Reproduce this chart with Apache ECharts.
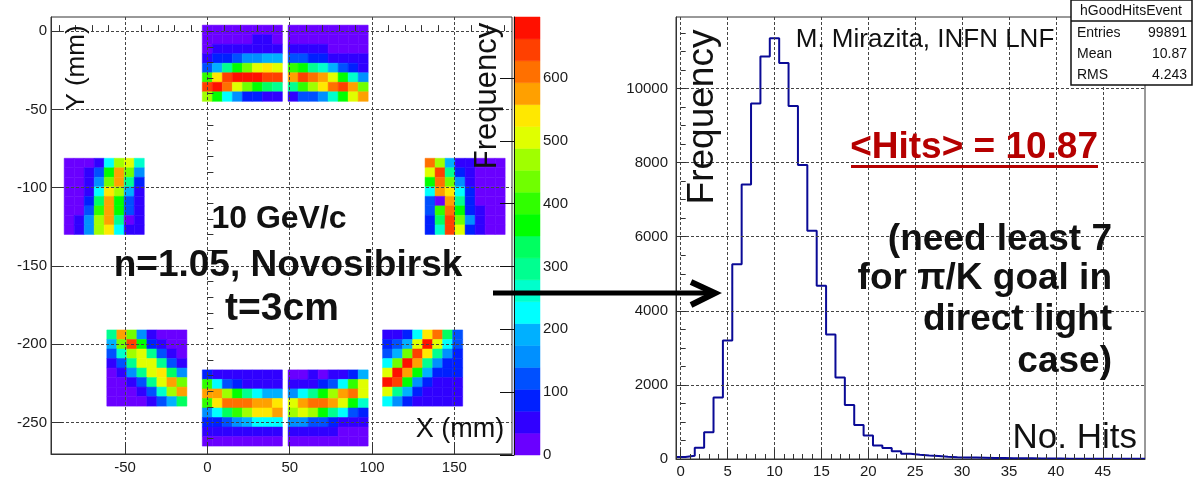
<!DOCTYPE html>
<html><head><meta charset="utf-8">
<script src="https://cdn.jsdelivr.net/npm/echarts@6/dist/echarts.min.js"></script>
<style>html,body{margin:0;padding:0;background:#fff}#c{width:1195px;height:479px}</style>
</head><body><div id="c"></div>
<script>
// ---------- colour scale ----------
const zMax = 697;
const palette = ['#6a00ff','#3000ff','#0020ff','#0050ff','#0090ff','#00b0ff','#00ffff','#00ffcc','#00ff90','#00ff60',
                 '#00ff00','#30ff00','#70ff00','#a0ff00','#e0ff00','#ffe800','#ffa000','#ff7000','#ff4000','#ff1000'];
const colorbarTicks = [0,100,200,300,400,500,600];

// ---------- hit map axes ----------
const mapXTicks = [-50,0,50,100,150];
const mapYTicks = [0,-50,-100,-150,-200,-250];
const mapXMinor = [-90,-80,-70,-60,-40,-30,-20,-10,10,20,30,40,60,70,80,90,110,120,130,140,160,170,180];
const mapYMinor = [0,-10,-20,-30,-40,-60,-70,-80,-90,-110,-120,-130,-140,-160,-170,-180,-190,-210,-220,-230,-240,-260];
const pixelPitch = 6.08; // mm

// block top-left corners (mm)
const originTopL = [-3.1, 3.8];
const originTopR = [49.0, 3.8];
const originLeft = [-87.0, -81.2];
const originRight = [132.2, -81.2];
const originBotL = [-61.1, -190.8];
const originBotCL = [-3.1, -216.3];
const originBotCR = [49.0, -216.3];
const originBotR = [106.4, -190.8];

// counts per anode pixel, rows top -> bottom
const cellsTopL = [
 [17,17,17,17,17,17,17,17],
 [17,17,17,17,17,52,52,17],
 [17,52,52,52,52,52,52,52],
 [52,87,87,122,157,157,192,192],
 [122,192,296,366,436,505,540,505],
 [401,540,645,680,680,680,645,645],
 [645,680,610,505,436,366,331,296],
 [470,366,227,157,87,87,52,52]];
const cellsTopR = [
 [17,17,17,17,17,17,17,17],
 [17,17,17,17,17,17,17,17],
 [52,52,52,52,17,17,17,17],
 [122,122,87,87,52,52,52,52],
 [401,366,296,261,192,122,87,52],
 [575,645,610,575,505,366,261,157],
 [296,401,470,540,610,645,575,436],
 [52,122,122,157,261,366,505,575]];
const cellsLeft = [
 [17,17,17,52,227,470,505,261],
 [17,17,52,122,366,575,436,157],
 [17,17,52,157,436,575,296,87],
 [17,17,52,227,540,470,192,52],
 [17,17,87,331,575,366,122,52],
 [17,17,122,401,575,366,122,52],
 [17,52,157,470,575,296,30,52],
 [17,52,157,470,540,227,52,52]];
const cellsRight = [
 [610,470,192,52,52,17,17,17],
 [505,645,296,87,52,17,17,17],
 [366,610,436,157,52,17,17,17],
 [227,575,540,227,87,17,17,17],
 [122,17,575,296,87,17,17,17],
 [122,401,610,366,87,52,17,17],
 [87,331,645,436,157,52,17,17],
 [87,261,645,505,87,52,17,17]];
const cellsBotL = [
 [296,575,436,157,52,17,17,17],
 [192,436,645,366,87,52,17,17],
 [122,261,470,505,296,122,52,17],
 [52,122,296,505,505,296,122,52],
 [17,52,157,296,505,540,331,157],
 [17,17,52,122,296,505,575,436],
 [17,17,17,52,122,261,470,575],
 [17,17,17,17,52,122,192,331]];
const cellsBotCL = [
 [87,52,52,52,52,52,52,52],
 [401,227,122,87,52,52,52,52],
 [575,575,470,366,296,227,192,192],
 [401,540,610,610,610,575,575,540],
 [157,227,331,401,470,540,540,575],
 [87,87,122,157,192,227,227,227],
 [52,52,52,52,52,52,52,52],
 [17,17,17,17,17,17,17,17]];
const cellsBotCR = [
 [17,17,52,17,52,52,87,192],
 [52,52,52,87,122,227,401,505],
 [157,227,296,366,470,575,610,505],
 [505,575,610,610,575,505,366,261],
 [470,505,470,366,296,227,122,87],
 [157,157,122,122,87,52,52,52],
 [52,52,52,52,52,17,17,17],
 [17,17,17,17,17,17,17,17]];
const cellsBotR = [
 [52,52,87,227,540,610,331,122],
 [87,122,192,505,680,505,227,122],
 [122,192,436,645,540,296,157,87],
 [227,436,680,575,296,157,87,87],
 [505,680,575,366,192,87,87,87],
 [680,645,366,157,87,52,52,52],
 [505,296,192,87,52,52,52,52],
 [227,157,87,52,52,52,52,52]];

// ---------- hits histogram ----------
const hitsBins = [0,1,2,3,4,5,6,7,8,9,10,11,12,13,14,15,16,17,18,19,20,21,22,23,24,25,26,27,28,29,30,31,32,33,34,35,36,37,38,39,40,41,42,43,44,45,46,47,48,49];
const hitsCounts = [54,90,303,724,1662,3200,5255,7410,9598,10866,11359,10688,9526,7936,6158,4673,3360,2198,1456,920,
                    635,367,295,206,143,115,95,80,60,48,42,38,33,28,25,22,20,18,15,14,12,10,9,8,7,6,5,5,4,4];
const histXTicks = [0,5,10,15,20,25,30,35,40,45];
const histXMinor = [1,2,3,4,6,7,8,9,11,12,13,14,16,17,18,19,21,22,23,24,26,27,28,29,31,32,33,34,36,37,38,39,41,42,43,44,46,47,48,49];
const histYTicks = [0,2000,4000,6000,8000,10000];
const histYMinor = [500,1000,1500,2500,3000,3500,4500,5000,5500,6500,7000,7500,8500,9000,9500,10500,11000,11500];
const histYMax = 11930;

const statsRows = [['Entries','99891'],['Mean','10.87'],['RMS','4.243']];

// ---------- build ----------
const FONT = '"Liberation Sans", Arial, Helvetica, sans-serif';
const blocks = [[originTopL,cellsTopL],[originTopR,cellsTopR],[originLeft,cellsLeft],[originRight,cellsRight],
                [originBotL,cellsBotL],[originBotCL,cellsBotCL],[originBotCR,cellsBotCR],[originBotR,cellsBotR]];
const cellData = [];
blocks.forEach(([o, cells]) => {
  cells.forEach((row, r) => row.forEach((v, c) => {
    cellData.push([o[0] + c * pixelPitch, o[1] - r * pixelPitch, v]);
  }));
});
const bandOf = v => Math.max(0, Math.min(palette.length - 1, Math.floor(v / (zMax / palette.length))));
const histLine = hitsBins.map((b, i) => [b - 0.5, hitsCounts[i]]);
histLine.push([hitsBins[hitsBins.length - 1] + 0.5, hitsCounts[hitsCounts.length - 1]]);

const axisCol = '#333';
const plainNum = v => String(v);
const gridLine = {show: true, lineStyle: {color: '#444', width: 1, type: [3, 2]}};
function majorAxis(grid, min, max, ticks, pos, tickLen, labelMargin, extra) {
  return Object.assign({
    gridIndex: grid, type: 'value', min: min, max: max, position: pos, z: 5,
    axisLine: {show: true, onZero: false, lineStyle: {color: axisCol, width: 1}},
    axisTick: {show: true, inside: true, length: tickLen, customValues: ticks, lineStyle: {color: axisCol}},
    axisLabel: {show: true, customValues: ticks, formatter: plainNum, color: '#1a1a1a', fontSize: 15, fontFamily: FONT, margin: labelMargin},
    splitLine: gridLine
  }, extra || {});
}
function minorAxis(grid, min, max, ticks, pos, tickLen) {
  return {gridIndex: grid, type: 'value', min: min, max: max, position: pos, z: 5,
    axisLine: {show: false}, axisLabel: {show: false}, splitLine: {show: false},
    axisTick: {show: true, inside: true, length: tickLen, customValues: ticks, lineStyle: {color: axisCol}}};
}

const option = {
  animation: false,
  backgroundColor: '#ffffff',
  grid: [
    {left: 51, top: 17, width: 461, height: 437, show: true, borderColor: axisCol, borderWidth: 1, backgroundColor: 'transparent'},
    {left: 514, top: 17, width: 26, height: 438, show: false},
    {left: 676, top: 17, width: 469, height: 445, show: true, borderColor: axisCol, borderWidth: 1, backgroundColor: 'transparent'}
  ],
  xAxis: [
    majorAxis(0, -95, 185, mapXTicks, 'bottom', 12, 6),
    minorAxis(0, -95, 185, mapXMinor, 'bottom', 6),
    {gridIndex: 1, type: 'value', min: 0, max: 1, show: false},
    majorAxis(2, -0.5, 49.5, histXTicks, 'bottom', 10, 5),
    minorAxis(2, -0.5, 49.5, histXMinor, 'bottom', 5)
  ],
  yAxis: [
    majorAxis(0, -270, 9, mapYTicks, 'left', 12, 4),
    minorAxis(0, -270, 9, mapYMinor, 'left', 6),
    {gridIndex: 1, type: 'value', min: 0, max: zMax, position: 'right', z: 5,
     axisLine: {show: true, lineStyle: {color: '#111', width: 1}},
     axisTick: {show: true, inside: true, length: 14, customValues: colorbarTicks, lineStyle: {color: '#111'}},
     axisLabel: {show: true, customValues: colorbarTicks, formatter: plainNum, color: '#1a1a1a', fontSize: 15, fontFamily: FONT, margin: 3},
     splitLine: {show: false}},
    majorAxis(2, 0, histYMax, histYTicks, 'left', 10, 8),
    minorAxis(2, 0, histYMax, histYMinor, 'left', 5)
  ],
  series: [
    {type: 'custom', xAxisIndex: 0, yAxisIndex: 0, data: cellData, clip: true,
     encode: {x: 0, y: 1},
     renderItem: function (params, api) {
       const x0 = api.value(0), y0 = api.value(1), v = api.value(2);
       const p1 = api.coord([x0, y0]);
       const p2 = api.coord([x0 + pixelPitch, y0 - pixelPitch]);
       const col = palette[bandOf(v)];
       return {type: 'rect', shape: {x: p1[0], y: p1[1], width: p2[0] - p1[0], height: p2[1] - p1[1]},
               style: {fill: col, stroke: col, lineWidth: 0.5}};
     }},
    {type: 'custom', xAxisIndex: 2, yAxisIndex: 2, data: palette.map((c, i) => [i]),
     renderItem: function (params, api) {
       const i = api.value(0);
       const step = zMax / palette.length;
       const a = api.coord([0, (i + 1) * step]);
       const b = api.coord([1, i * step]);
       return {type: 'rect', shape: {x: a[0], y: a[1], width: b[0] - a[0], height: b[1] - a[1]},
               style: {fill: palette[i], stroke: palette[i], lineWidth: 0.5}};
     }},
    {type: 'line', xAxisIndex: 3, yAxisIndex: 3, data: histLine, step: 'end', symbol: 'none',
     lineStyle: {color: '#0a0a96', width: 2}, z: 3}
  ],
  graphic: [
    {type: 'text', x: 487, y: 96, rotation: Math.PI / 2, z: 20,
     style: {text: 'Frequency', font: '31px ' + FONT, fill: '#111', align: 'center', verticalAlign: 'middle'}},
    {type: 'text', x: 77, y: 68, rotation: Math.PI / 2, z: 20,
     style: {text: 'Y (mm)', font: '26px ' + FONT, fill: '#111', align: 'center', verticalAlign: 'middle'}},
    {type: 'text', x: 460, y: 430, z: 20,
     style: {text: 'X (mm)', font: '27px ' + FONT, fill: '#111', align: 'center', verticalAlign: 'middle'}},
    {type: 'text', x: 279, y: 219, z: 20,
     style: {text: '10 GeV/c', font: 'bold 32px ' + FONT, fill: '#111', align: 'center', verticalAlign: 'middle'}},
    {type: 'text', x: 288, y: 266, z: 20,
     style: {text: 'n=1.05, Novosibirsk', font: 'bold 37px ' + FONT, fill: '#111', align: 'center', verticalAlign: 'middle'}},
    {type: 'text', x: 282, y: 309, z: 20,
     style: {text: 't=3cm', font: 'bold 39px ' + FONT, fill: '#111', align: 'center', verticalAlign: 'middle'}},
    // arrow
    {type: 'line', z: 20, shape: {x1: 493, y1: 293, x2: 713, y2: 293}, style: {stroke: '#000', lineWidth: 5}},
    {type: 'polyline', z: 20, shape: {points: [[691, 282], [715, 293], [691, 305]]},
     style: {stroke: '#000', lineWidth: 6, fill: null, lineJoin: 'miter'}},
    // right panel texts
    {type: 'text', x: 703, y: 117, rotation: Math.PI / 2, z: 20,
     style: {text: 'Frequency', font: '37px ' + FONT, fill: '#111', align: 'center', verticalAlign: 'middle'}},
    {type: 'text', x: 925, y: 40, z: 20,
     style: {text: 'M. Mirazita, INFN LNF', font: '26px ' + FONT, fill: '#111', align: 'center', verticalAlign: 'middle'}},
    {type: 'text', x: 1098, y: 148, z: 20,
     style: {text: '<Hits> = 10.87', font: 'bold 37px ' + FONT, fill: '#b50000', align: 'right', verticalAlign: 'middle'}},
    {type: 'rect', z: 20, shape: {x: 851, y: 165, width: 247, height: 3}, style: {fill: '#b50000'}},
    {type: 'text', x: 1112, y: 240, z: 20,
     style: {text: '(need least 7', font: 'bold 37px ' + FONT, fill: '#111', align: 'right', verticalAlign: 'middle'}},
    {type: 'text', x: 1112, y: 279, z: 20,
     style: {text: 'for π/K goal in', font: 'bold 37px ' + FONT, fill: '#111', align: 'right', verticalAlign: 'middle'}},
    {type: 'text', x: 1112, y: 320, z: 20,
     style: {text: 'direct light', font: 'bold 37px ' + FONT, fill: '#111', align: 'right', verticalAlign: 'middle'}},
    {type: 'text', x: 1112, y: 362, z: 20,
     style: {text: 'case)', font: 'bold 37px ' + FONT, fill: '#111', align: 'right', verticalAlign: 'middle'}},
    {type: 'text', x: 1137, y: 438, z: 20,
     style: {text: 'No. Hits', font: '35px ' + FONT, fill: '#111', align: 'right', verticalAlign: 'middle'}},
    // stats box
    {type: 'rect', z: 30, shape: {x: 1071, y: 0, width: 121, height: 85}, style: {fill: '#fff', stroke: '#111', lineWidth: 1.5}},
    {type: 'line', z: 31, shape: {x1: 1071, y1: 21, x2: 1192, y2: 21}, style: {stroke: '#111', lineWidth: 1.5}},
    {type: 'text', x: 1131, y: 11, z: 31,
     style: {text: 'hGoodHitsEvent', font: '14px ' + FONT, fill: '#111', align: 'center', verticalAlign: 'middle'}}
  ].concat(statsRows.flatMap((r, i) => [
    {type: 'text', x: 1077, y: 33 + i * 21, z: 31,
     style: {text: r[0], font: '14px ' + FONT, fill: '#111', align: 'left', verticalAlign: 'middle'}},
    {type: 'text', x: 1187, y: 33 + i * 21, z: 31,
     style: {text: r[1], font: '14px ' + FONT, fill: '#111', align: 'right', verticalAlign: 'middle'}}
  ]))
};
const chart = echarts.init(document.getElementById('c'));
chart.setOption(option);
</script></body></html>
